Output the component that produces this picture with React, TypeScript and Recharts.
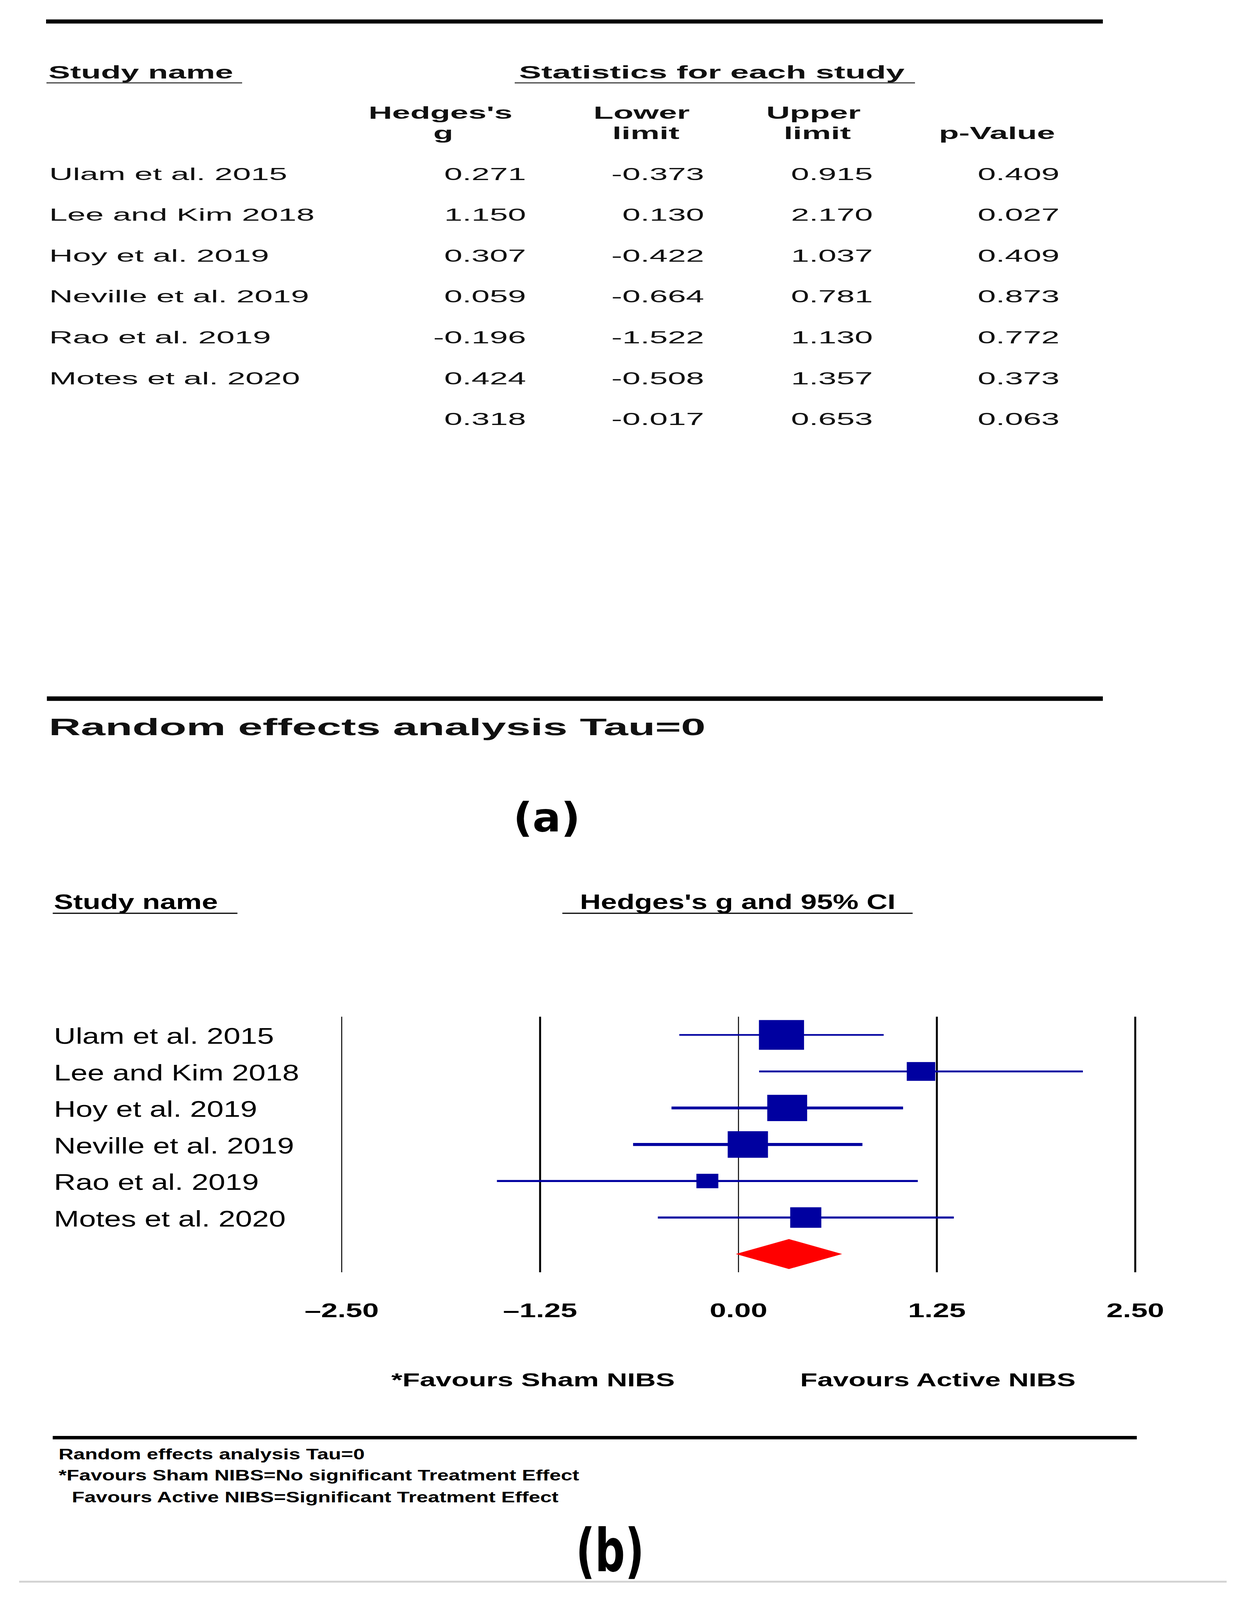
import { ComposedChart, Scatter, ErrorBar, XAxis, YAxis, ReferenceLine } from "recharts"

// ---- data ----
const studies = ["Ulam et al. 2015", "Lee and Kim 2018", "Hoy et al. 2019", "Neville et al. 2019", "Rao et al. 2019", "Motes et al. 2020"]
const hedgesG = [0.271, 1.15, 0.307, 0.059, -0.196, 0.424]
const lowerLimit = [-0.373, 0.13, -0.422, -0.664, -1.522, -0.508]
const upperLimit = [0.915, 2.17, 1.037, 0.781, 1.13, 1.357]
const pValues = [0.409, 0.027, 0.409, 0.873, 0.772, 0.373]
// pooled row: g, lower, upper, p
const summaryStats = [0.318, -0.017, 0.653, 0.063]
// relative weights (%), estimated from square areas
const relWeight = [27.1, 10.8, 21.2, 21.6, 6.4, 12.9]
const xTicks = [-2.5, -1.25, 0, 1.25, 2.5]

// ---- layout / style ----
const W = 3165
const H = 4287
const BLUE = "#0000A0"
const RED = "#FF0000"
const FONT = "'Liberation Sans', Arial, sans-serif"
const DEJAVU = "'DejaVu Sans', sans-serif"
const PLOT = { left: 875, right: 2907, top: 2724, bottom: 3409 }
const NAME_X = 138
const Y_AXIS_W = PLOT.left - NAME_X
const X_AXIS_H = 150
const ciStroke = [4.5, 5, 7.5, 8, 5.5, 5.5]
const refStroke = [2.5, 5, 2.5, 5, 5]
const SQ_K = 15.3 // px height per sqrt(weight)
const SQ_ASPECT = 1.45
const DIAMOND_HALF = 0.41 // in row units

const fmt = (v: number) => v.toFixed(3)
const fmtTick = (v: number) => (v < 0 ? "\u2013" : "") + Math.abs(v).toFixed(2)

function Txt({ x, y, sx = 1, sy = 1, size, bold = false, anchor = "start", family = FONT, fill = "#000", children }: any) {
  return (
    <text
      transform={`translate(${x},${y}) scale(${sx},${sy})`}
      fontFamily={family}
      fontSize={size}
      fontWeight={bold ? 700 : 400}
      textAnchor={anchor}
      fill={fill}
    >
      {children}
    </text>
  )
}

// table panel (a)
const TABLE_SX = 1.82
const HEAD_SX = 1.78
const ROW_Y0 = 482
const ROW_DY = 109.5
const colRight = [1347, 1803, 2235, 2713]

function TablePanel() {
  const cols = [hedgesG, lowerLimit, upperLimit, pValues]
  return (
    <g>
      <line x1={118} x2={2824} y1={57.5} y2={57.5} stroke="#000" strokeWidth={11} />
      <Txt x={124} y={210} sx={1.74} size={48} bold fill="#111">Study name</Txt>
      <line x1={119} x2={620} y1={222} y2={222} stroke="#333" strokeWidth={3} />
      <Txt x={1329} y={210} sx={HEAD_SX} size={48} bold fill="#111">Statistics for each study</Txt>
      <line x1={1318} x2={2343} y1={222} y2={222} stroke="#333" strokeWidth={3} />

      <Txt x={1128} y={318} sx={HEAD_SX} size={47} bold anchor="middle" fill="#111">Hedges's</Txt>
      <Txt x={1135} y={373} sx={HEAD_SX} size={47} bold anchor="middle" fill="#111">g</Txt>
      <Txt x={1643} y={318} sx={HEAD_SX} size={47} bold anchor="middle" fill="#111">Lower</Txt>
      <Txt x={1654} y={373} sx={HEAD_SX} size={47} bold anchor="middle" fill="#111">limit</Txt>
      <Txt x={2083} y={318} sx={HEAD_SX} size={47} bold anchor="middle" fill="#111">Upper</Txt>
      <Txt x={2093} y={373} sx={HEAD_SX} size={47} bold anchor="middle" fill="#111">limit</Txt>
      <Txt x={2553} y={373} sx={HEAD_SX} size={47} bold anchor="middle" fill="#111">p-Value</Txt>

      {studies.map((s, i) => (
        <g key={s}>
          <Txt x={126} y={ROW_Y0 + i * ROW_DY} sx={TABLE_SX} size={46} fill="#111">{s}</Txt>
          {cols.map((c, j) => (
            <Txt key={j} x={colRight[j]} y={ROW_Y0 + i * ROW_DY} sx={TABLE_SX} size={46} anchor="end" fill="#111">
              {fmt(c[i])}
            </Txt>
          ))}
        </g>
      ))}
      {summaryStats.map((v, j) => (
        <Txt key={j} x={colRight[j]} y={ROW_Y0 + studies.length * ROW_DY} sx={TABLE_SX} size={46} anchor="end" fill="#111">
          {fmt(v)}
        </Txt>
      ))}

      <line x1={120} x2={2824} y1={1872} y2={1872} stroke="#000" strokeWidth={12} />
      <Txt x={125} y={1970} sx={1.77} size={64} bold fill="#111">Random effects analysis Tau=0</Txt>
      <Txt x={1400} y={2228} size={108} bold anchor="middle" family={DEJAVU}>(a)</Txt>
    </g>
  )
}

function ForestText() {
  return (
    <g>
      <Txt x={138} y={2435} sx={1.3} size={57} bold>Study name</Txt>
      <line x1={135} x2={608} y1={2447} y2={2447} stroke="#000" strokeWidth={3} />
      <Txt x={1485} y={2435} sx={1.3} size={57} bold>Hedges's g and 95% CI</Txt>
      <line x1={1440} x2={2337} y1={2447} y2={2447} stroke="#000" strokeWidth={3} />

      <Txt x={1002} y={3715} sx={1.46} size={50} bold>*Favours Sham NIBS</Txt>
      <Txt x={2049} y={3715} sx={1.44} size={50} bold>Favours Active NIBS</Txt>

      <line x1={135} x2={2911} y1={3852} y2={3852} stroke="#000" strokeWidth={9} />
      <Txt x={150} y={3910} sx={1.32} size={40} bold>Random effects analysis Tau=0</Txt>
      <Txt x={150} y={3967} sx={1.32} size={40} bold>*Favours Sham NIBS=No significant Treatment Effect</Txt>
      <Txt x={184} y={4025} sx={1.32} size={40} bold>Favours Active NIBS=Significant Treatment Effect</Txt>

      <line x1={49} x2={3141} y1={4238} y2={4238} stroke="#d2d2d2" strokeWidth={5} />
      <Txt x={1562} y={4210} sx={0.68} size={158} bold anchor="middle" family={DEJAVU}>(b)</Txt>
    </g>
  )
}

function NameTick(props: any) {
  const { y, payload } = props
  return (
    <Txt x={NAME_X} y={y + 24} sx={1.29} size={60}>
      {studies[payload.value - 1]}
    </Txt>
  )
}

function ValueTick(props: any) {
  const { x, y, payload } = props
  return (
    <Txt x={x} y={y + 120} sx={1.46} size={52} bold anchor="middle">
      {fmtTick(payload.value)}
    </Txt>
  )
}

function Square(props: any) {
  const { cx, cy, payload } = props
  const h = SQ_K * Math.sqrt(payload.w)
  const w = h * SQ_ASPECT
  return <rect x={cx - w / 2} y={cy - h / 2} width={w} height={h} fill={BLUE} />
}

function DiamondPoly(props: any) {
  const pts = (props.points || []).map((p: any) => `${p.x},${p.y}`).join(" ")
  return <polygon points={pts} fill={RED} stroke="none" />
}

export default function App() {
  const studyData = studies.map((s, i) => [
    {
      name: s,
      x: hedgesG[i],
      y: i + 1,
      err: [hedgesG[i] - lowerLimit[i], upperLimit[i] - hedgesG[i]],
      w: relWeight[i],
    },
  ])
  const rowSum = studies.length + 1
  const diamond = [
    { x: summaryStats[1], y: rowSum },
    { x: summaryStats[0], y: rowSum - DIAMOND_HALF },
    { x: summaryStats[2], y: rowSum },
    { x: summaryStats[0], y: rowSum + DIAMOND_HALF },
  ]
  // the visible page is a little shorter than the window: fit the figure vertically
  const vh = typeof window !== "undefined" && window.innerHeight ? window.innerHeight : H
  const fit = Math.min(1, vh / H)

  return (
    <div style={{ position: "relative", width: W, height: Math.floor(H * fit), overflow: "hidden", background: "#fff" }}>
      <style>{"body{margin:0;overflow:hidden}"}</style>
      <div style={{ position: "absolute", left: 0, top: 0, width: W, height: H, transform: `scale(1, ${fit})`, transformOrigin: "0 0" }}>
        <svg width={W} height={H} style={{ position: "absolute", left: 0, top: 0 }}>
          <TablePanel />
          <ForestText />
        </svg>
        <div style={{ position: "absolute", left: 0, top: 0 }}>
          <ComposedChart
            width={W}
            height={H}
            margin={{ top: PLOT.top, left: NAME_X, right: W - PLOT.right, bottom: H - PLOT.bottom - X_AXIS_H }}
          >
            <XAxis
              type="number"
              dataKey="x"
              domain={[-2.5, 2.5]}
              ticks={xTicks}
              interval={0}
              height={X_AXIS_H}
              axisLine={false}
              tickLine={false}
              tickSize={0}
              tickMargin={0}
              allowDataOverflow
              tick={(p: any) => <ValueTick {...p} />}
            />
            <YAxis
              type="number"
              dataKey="y"
              domain={[0.5, 7.5]}
              ticks={[1, 2, 3, 4, 5, 6]}
              interval={0}
              reversed
              width={Y_AXIS_W}
              axisLine={false}
              tickLine={false}
              tickSize={0}
              tickMargin={0}
              allowDataOverflow
              tick={(p: any) => <NameTick {...p} />}
            />
            {xTicks.map((v, i) => (
              <ReferenceLine key={v} x={v} stroke="#000" strokeWidth={refStroke[i]} />
            ))}
            {studyData.map((d, i) => (
              <Scatter key={studies[i]} data={d} fill={BLUE} shape={(p: any) => <Square {...p} />} isAnimationActive={false}>
                <ErrorBar dataKey="err" direction="x" width={0} stroke={BLUE} strokeWidth={ciStroke[i]} isAnimationActive={false} />
              </Scatter>
            ))}
            <Scatter
              data={diamond}
              fill={RED}
              shape={() => <g />}
              line={(p: any) => <DiamondPoly {...p} />}
              lineType="joint"
              isAnimationActive={false}
            />
          </ComposedChart>
        </div>
      </div>
    </div>
  )
}
